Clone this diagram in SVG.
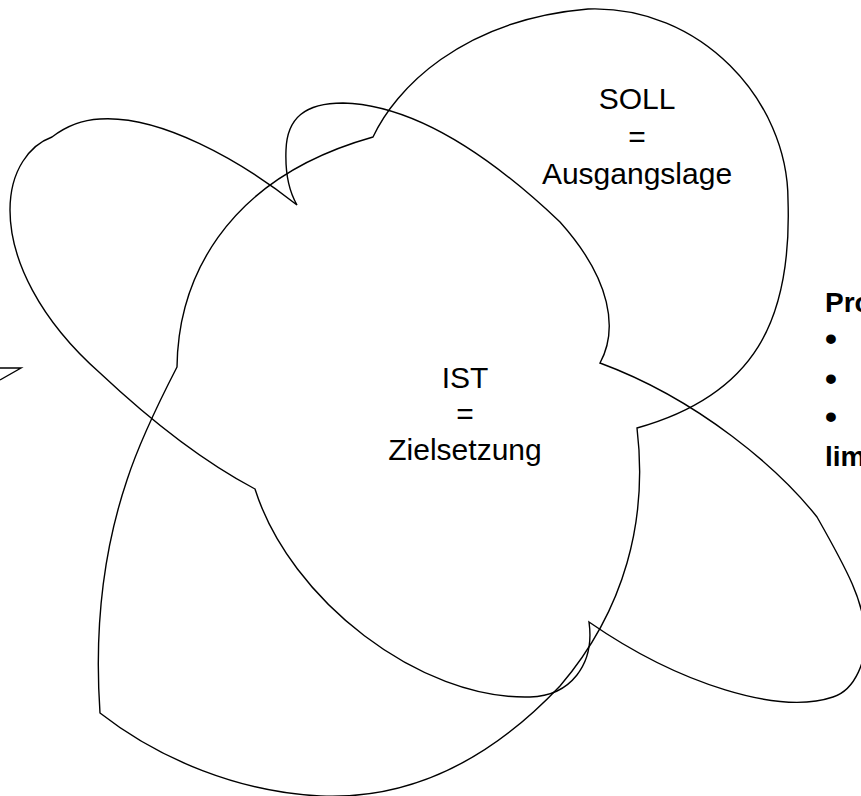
<svg xmlns="http://www.w3.org/2000/svg" width="861" height="796" viewBox="0 0 861 796">
<style>
.ln{fill:none;stroke:#000;stroke-width:1.4;stroke-linejoin:miter}
.t{font-family:"Liberation Sans",Arial,sans-serif;font-size:30px;fill:#000;text-anchor:middle}
.b{font-family:"Liberation Sans",Arial,sans-serif;font-size:28px;font-weight:bold;fill:#000}
.d{font-family:"Liberation Sans",Arial,sans-serif;font-size:34px;font-weight:bold;fill:#000}
</style>
<rect width="861" height="796" fill="#fff"/>
<g id="connectors">
<path id="outer" class="ln" d="M373,137 C395,90 460,20 588,9 C700,5 788,100 788,200 C792,320 755,395 637,428 C648,520 625,610 560,686 C490,760 410,800 320,796 C240,792 160,760 100,713 C95,640 100,560 127,480 C140,440 160,400 177,367 C178,285 220,180 373,137 Z"/>
<path id="inner" class="ln" d="M297,205 C240,160 160,115 100,119 C80,120 65,127 52,137 C30,145 10,170 10,210 C10,260 40,320 100,373 C150,420 200,460 255,489 C290,600 420,700 530,697 C570,696 595,665 589,622 C680,685 780,715 833,697 C855,690 868,660 865,630 C862,600 850,575 817,517 C780,470 700,400 600,363 C618,330 612,280 560,222 C500,165 420,105 343,103 C305,103 287,118 286,150 C285,175 290,193 297,205 Z"/>
<path id="tip" class="ln" d="M0,368 L21,368 L0,380"/>
</g>
<g id="soll">
<text class="t" x="637" y="109">SOLL</text>
<text class="t" x="637" y="147">=</text>
<text class="t" x="637" y="184">Ausgangslage</text>
</g>
<g id="ist">
<text class="t" x="465" y="388">IST</text>
<text class="t" x="465" y="424">=</text>
<text class="t" x="465" y="460">Zielsetzung</text>
</g>
<g id="list">
<text class="b" x="825" y="312">Pro</text>
<text class="d" x="825" y="350">•</text>
<text class="d" x="825" y="390">•</text>
<text class="d" x="825" y="428">•</text>
<text class="b" x="825" y="466">lim</text>
</g>
</svg>
